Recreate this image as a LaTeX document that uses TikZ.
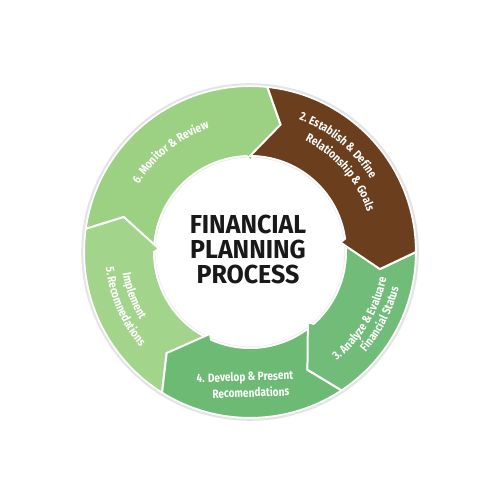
\documentclass[tikz,border=0pt]{standalone}
\usepackage{fontspec}
\usetikzlibrary{decorations.text}
\newfontfamily\ctrfont[FakeStretch=0.96]{Fira Sans}
\newfontfamily\lblfamily[FakeStretch=0.84]{Fira Sans}
\newcommand\lblfont{\lblfamily\bfseries\fontsize{12}{13}\selectfont}
\definecolor{segsix}{HTML}{9CD183}
\definecolor{segfive}{HTML}{A3D48B}
\definecolor{segfour}{HTML}{6DBA74}
\definecolor{segthree}{HTML}{70BC78}
\definecolor{segtwo}{HTML}{6B3F1E}
\definecolor{ringedge}{HTML}{E4E4E4}
\newcommand\Rout{166}
\newcommand\Rin{96}
\newcommand\ringseg[3]{%
  \fill[#3, draw=white, line width=2pt, line join=miter]
    (#1:\Rout) arc[start angle=#1, end angle=#2, radius=\Rout]
    -- ({#2-7.5}:131) -- ({#2+6}:91) -- ({#2+8}:\Rin)
    arc[start angle={#2+8}, end angle={#1+6}, radius=\Rin]
    -- ({#1-7.5}:131) -- cycle;}
\tikzset{
  cwtext/.style={decorate, decoration={text along path, text align=center, text color=white, text={|\lblfont|#1}}},
  lbl/.style={text=white, font=\lblfont, anchor=base, inner sep=0pt}
}
\begin{document}
\begin{tikzpicture}[x=1pt,y=1pt]
\useasboundingbox (0,0) rectangle (500,500);
\fill[white] (0,0) rectangle (500,500);
\begin{scope}[shift={(250,248)}]
  \draw[ringedge, line width=1.5pt] (0,0) circle[radius=\Rin-0.8];
  \ringseg{172}{84}{segsix}
  \ringseg{238}{172}{segfive}
  \ringseg{303.5}{238}{segfour}
  \ringseg{360}{303.5}{segthree}
  \ringseg{84}{0}{segtwo}
  \draw[ringedge, line width=2pt] (0,0) circle[radius=\Rout+1.8];
  % labels
  \path[cwtext={6. Monitor {\&} Review}] (168.5:130) arc[start angle=168.5, end angle=88.5, radius=130];
  \path[cwtext={2. Establish {\&} Define}] (90.5:141) arc[start angle=90.5, end angle=10.5, radius=141];
  \path[cwtext={Relationship {\&} Goals}] (81.3:124) arc[start angle=81.3, end angle=1.3, radius=124];
  \path[cwtext={3. Analyze {\&} Evaluare}] (-71.25:139) arc[start angle=-71.25, end angle=8.75, radius=139];
  \path[cwtext={Financial Status}] (-67.25:153) arc[start angle=-67.25, end angle=12.75, radius=153];
  \path[cwtext={Implement}] (160.5:129) arc[start angle=160.5, end angle=240.5, radius=129];
  \path[cwtext={5. Recomnedations}] (163.5:145) arc[start angle=163.5, end angle=243.5, radius=145];
  \node[lbl, rotate=2] (l4a) at (-5,-129) {4. Develop \& Present};
  \node[lbl, rotate=2] (l4b) at (1,-145) {Recomendations};
  \node[font=\ctrfont\bfseries\fontsize{26}{25}\selectfont, text=black!90, align=center, inner sep=0pt] (title) at (-2,3) {FINANCIAL\\PLANNING\\PROCESS};
\end{scope}
\end{tikzpicture}
\end{document}
